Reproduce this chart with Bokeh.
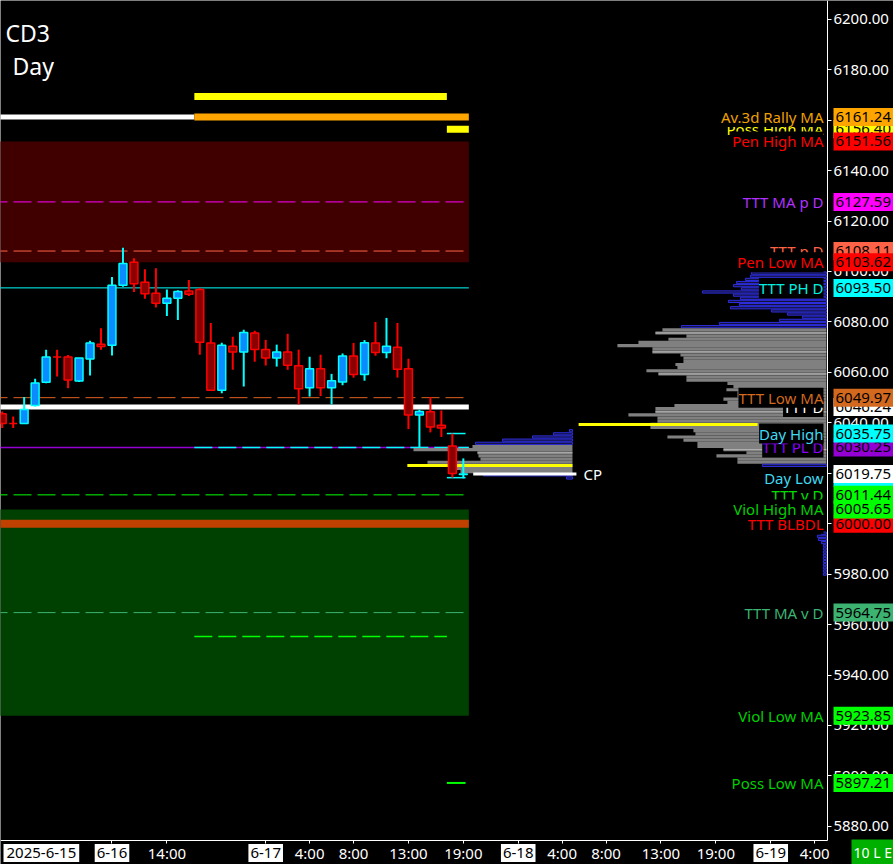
import numpy as np
from bokeh.plotting import figure
from bokeh.models import (Range1d, FixedTicker, PrintfTickFormatter, Label, ColumnDataSource,
                          LinearAxis)
from bokeh.embed import file_html
from bokeh.resources import INLINE

FONT = "Noto Sans"

# ---------------- hourly OHLC bars (bar index 0 .. 42) ----------------
opens = [6043.6, 6039.7, 6039.7, 6046.9, 6056.1, 6066.1, 6066.1, 6056.6, 6065.3, 6071.2,
         6070.8, 6094.5, 6103.7, 6095.7, 6091.4, 6087.4, 6089.4, 6092.3, 6092.9, 6071.6,
         6052.9, 6070.4, 6068.1, 6075.6, 6069.1, 6065.7, 6068.1, 6062.6, 6053.9, 6061.4,
         6053.9, 6056.2, 6066.5, 6059.2, 6071.6, 6067.9, 6070.0, 6061.4, 6043.1, 6044.4,
         6039.0, 6030.8, 6019.5]
highs = [6044.5, 6042.5, 6050.2, 6057.5, 6069.0, 6069.0, 6066.9, 6065.7, 6072.5, 6077.5,
         6097.8, 6109.4, 6105.3, 6100.9, 6101.3, 6092.9, 6092.6, 6096.6, 6093.6, 6079.6,
         6071.7, 6074.1, 6076.9, 6076.5, 6072.9, 6071.0, 6075.3, 6069.0, 6066.2, 6067.0,
         6059.4, 6067.5, 6071.7, 6072.8, 6080.0, 6081.6, 6079.6, 6065.4, 6045.2, 6050.2,
         6044.9, 6035.75, 6025.9]
lows = [6037.9, 6037.9, 6039.7, 6046.5, 6055.7, 6058.4, 6053.7, 6056.2, 6058.8, 6069.0,
        6066.7, 6094.0, 6091.9, 6089.2, 6085.7, 6082.4, 6080.8, 6090.3, 6067.0, 6052.9,
        6051.7, 6061.0, 6054.4, 6064.2, 6062.7, 6062.3, 6061.0, 6047.3, 6050.4, 6050.6,
        6047.3, 6054.9, 6057.9, 6056.7, 6066.6, 6065.6, 6057.9, 6037.5, 6030.4, 6036.2,
        6034.4, 6018.25, 6018.0]
closes = [6039.7, 6039.7, 6045.3, 6055.8, 6066.1, 6066.1, 6057.0, 6065.7, 6071.6, 6070.3,
          6094.5, 6103.2, 6095.1, 6091.2, 6087.4, 6089.4, 6092.1, 6091.0, 6071.9, 6052.9,
          6070.8, 6068.1, 6075.8, 6069.1, 6065.7, 6068.1, 6062.8, 6053.5, 6061.4, 6053.9,
          6056.7, 6066.5, 6059.2, 6071.7, 6067.9, 6070.4, 6061.2, 6043.1, 6044.5, 6038.3,
          6037.9, 6019.9, 6019.75]
doji_bars = [1, 5]          # bars printed as red crosses

# ---------------- time axis (bar index of each labelled hour) ----------------
hour_ticks = [15, 28, 32, 37, 42, 51, 55, 60, 65, 74]
hour_labels = ["14:00", "4:00", "8:00", "13:00", "19:00", "4:00", "8:00", "13:00", "19:00", "4:00"]
day_ticks = [10, 24, 47, 70]
day_labels = ["6-16", "6-17", "6-18", "6-19"]
first_day_label = "2025-6-15"
study_tag = "10 L E"

# ---------------- price axis ----------------
price_ticks = list(range(5880, 6201, 20))

# ---------------- price levels, in drawing order ----------------
level_names = ["Poss High MA", "Av.3d Rally MA", "Pen High MA", "TTT MA p D", "TTT p D",
               "Pen Low MA", "TTT PH D", "TTT D", "TTT Low MA", "TTT PL D", "Day High",
               "Day Low", "", "TTT v D", "TTT BLBDL", "Viol High MA", "TTT MA v D",
               "Viol Low MA", "Poss Low MA"]
level_values = [6156.40, 6161.24, 6151.56, 6127.59, 6108.11,
                6103.62, 6093.50, 6046.24, 6049.97, 6030.25, 6035.75,
                6018.25, 6019.75, 6011.44, 6000.00, 6005.65, 5964.75,
                5923.85, 5897.21]
level_text_colors = ["#ffff00", "#f0a000", "#ff0000", "#b030ff", "#ff6347",
                     "#ff0000", "#00f0e0", "#ffffff", "#d2691e", "#8a00ff", "#40d8f0",
                     "#40d8f0", "#ffffff", "#00e000", "#ff0000", "#00d000", "#3cb371",
                     "#00d000", "#00d000"]
level_tag_colors = ["#ffff00", "#ffa500", "#ff0000", "#ff00ff", "#ff6347",
                    "#ff0000", "#00ffff", "#ffffff", "#d2691e", "#9400d3", "#00ffff",
                    "#00ffff", "#ffffff", "#00ff00", "#ff0000", "#00ff00", "#3cb371",
                    "#00ff00", "#00ff00"]
captions_on_top = ["Day Low"]   # captions painted after all the others

pen_high, pen_low = 6151.56, 6103.62
viol_high, viol_low = 6005.65, 5923.85
av3d_rally, poss_high, prior_rally = 6161.24, 6156.40, 6169.40
ttt_ma_p, ttt_p, ttt_ph = 6127.59, 6108.11, 6093.50
ttt_low_ma, ttt_d, ttt_pl = 6049.97, 6046.24, 6030.25
ttt_v, ttt_blbdl, ttt_ma_v = 6011.44, 6000.00, 5964.75
lower_target, poss_low = 5955.30, 5897.21
day_high, day_low, current_price = 6035.75, 6018.25, 6019.75
poc_overnight, poc_prior = 6023.10, 6039.30

# ---------------- volume profiles (volume per 1.25-pt row, top row first) ----------------
row_size = 1.25
big_top = 6099.375
big_upper_vol = [75, 76, 81, 90, 93, 85, 124, 93, 86, 98, 87, 96, 55, 39, 24, 47, 107, 145]
big_core_vol = [164, 171, 140, 158, 188, 209, 174, 174, 146, 143, 143, 151, 149, 180, 168,
                140, 140, 99, 93, 100, 89, 89, 103, 99, 152, 171, 171, 198, 169, 169,
                176, 176, 133, 131, 159, 143, 129, 129, 103, 80, 110, 89, 89]
big_core_marks = [1, 7, 14, 26, 38]
big_tail_vol = [64]
small_top = 6036.875
small_upper_vol = [3, 19, 40, 70, 97]
small_core_vol = [100, 159, 95, 94, 92, 145, 132, 117, 112]
small_core_marks = [2]
small_tail_vol = [89, 6]
low_top = 5996.25
low_vol = [5, 9, 8, 5, 3, 3, 3, 3, 3, 3, 3, 3, 3, 3]

# ---------------- frame geometry (bar-index / price units) ----------------
X0, X1 = -0.155, 81.18
Y0, Y1 = 5864.87, 6207.45
AXIS_X = 75.16          # price scale sits here
AXIS_Y = 5874.39        # time scale sits here
SESSION_SPLIT = 17.5
LAST_EDGE = 42.5
RECENT = 40.5
BIG_ANCHOR = 75.07
SMALL_ANCHOR = 51.94
VOL_TO_BARS = 1 / 10.98
BODY_W = 0.72
LABEL_ROW = 5869.45     # centre line of the date captions

p = figure(width=893, height=864, x_range=Range1d(X0, X1), y_range=Range1d(Y0, Y1),
           output_backend="svg", toolbar_location=None, x_axis_type=None, y_axis_type=None,
           min_border_left=0, min_border_top=0, min_border_right=0, min_border_bottom=0,
           background_fill_color="black", border_fill_color="black", outline_line_color=None)
p.grid.visible = False

# price axis
ya = LinearAxis(fixed_location=AXIS_X, bounds=(AXIS_Y, Y1))
ya.ticker = FixedTicker(ticks=price_ticks)
ya.formatter = PrintfTickFormatter(format="%.2f")
ya.axis_line_color = "white"
ya.major_tick_line_color = "white"
ya.minor_tick_line_color = None
ya.major_tick_out = 4
ya.major_tick_in = 0
ya.major_label_standoff = 2
ya.major_label_text_color = "white"
ya.major_label_text_font = FONT
ya.major_label_text_font_size = "15px"
p.add_layout(ya, "right")

# time axis
xa = LinearAxis(fixed_location=AXIS_Y, bounds=(X0, AXIS_X))
xa.ticker = FixedTicker(ticks=hour_ticks + day_ticks)
overrides = {t: s for t, s in zip(hour_ticks, hour_labels)}
overrides.update({t: "" for t in day_ticks})
xa.major_label_overrides = overrides
xa.axis_line_color = "white"
xa.major_tick_line_color = "white"
xa.minor_tick_line_color = None
xa.major_tick_out = 3
xa.major_tick_in = 0
xa.major_label_standoff = 0
xa.major_label_text_color = "white"
xa.major_label_text_font = FONT
xa.major_label_text_font_size = "15px"
p.add_layout(xa, "below")

# zones
p.quad(left=X0 - 1, right=LAST_EDGE, top=pen_high, bottom=pen_low, fill_color="#400000", line_color=None)
p.quad(left=X0 - 1, right=LAST_EDGE, top=viol_high, bottom=viol_low, fill_color="#004000", line_color=None)

def hline(y, x0, x1, color, width=1, dash="solid"):
    p.segment(x0=[x0], y0=[y], x1=[x1], y1=[y], line_color=color, line_width=width, line_dash=dash)

DASH = "18 6"
hline(av3d_rally, X0 - 1, SESSION_SPLIT, "white", 5)
hline(av3d_rally, SESSION_SPLIT, LAST_EDGE, "#ffa500", 7)
hline(prior_rally, SESSION_SPLIT, RECENT, "#ffff00", 7)
hline(poss_high, RECENT, LAST_EDGE, "#ffff00", 7)
hline(ttt_ma_p, X0 - 1, LAST_EDGE, "#ff00ff", 1, DASH)
hline(ttt_p, X0 - 1, LAST_EDGE, "#ff6347", 1, DASH)
hline(ttt_ph, X0 - 1, LAST_EDGE, "#00ffff", 1)
hline(ttt_low_ma, X0 - 1, LAST_EDGE, "#e0601e", 1, DASH)
hline(ttt_d, X0 - 1, LAST_EDGE, "white", 5)
hline(ttt_pl, X0 - 1, LAST_EDGE, "#9400d3", 1.5)
hline(ttt_pl, SESSION_SPLIT, LAST_EDGE, "#00ffff", 1.5, DASH)
hline(ttt_v, X0 - 1, LAST_EDGE, "#00ff00", 1, DASH)
hline(ttt_blbdl, X0 - 1, LAST_EDGE, "#c04000", 8)
hline(ttt_ma_v, X0 - 1, LAST_EDGE, "#3cb371", 1, DASH)
hline(lower_target, SESSION_SPLIT, RECENT, "#00ff00", 1.5, DASH)
hline(poss_low, RECENT, 42.2, "#00ff00", 2)
hline(day_high, RECENT, 42.2, "#00ffff", 1.5)
hline(day_low, RECENT, 42.2, "#00ffff", 1.5)

# volume profiles
def profile(top, vols, anchor, kind, first_row=0, marks=()):
    vols = np.asarray(vols, dtype=float)
    ys = top - row_size * (first_row + np.arange(len(vols)))
    left = anchor - vols * VOL_TO_BARS
    src = ColumnDataSource(dict(y=ys, left=left, right=np.full(len(vols), anchor)))
    if kind == "core":
        p.hbar(y="y", left="left", right="right", height=row_size, source=src,
               fill_color="#808080", line_color=None)
        m = list(marks)
        if m:
            p.segment(x0=left[m], y0=ys[m], x1=np.full(len(m), anchor), y1=ys[m],
                      line_color="#b4b4b4", line_width=1)
    else:
        p.hbar(y="y", left="left", right="right", height=row_size * 0.7, source=src,
               fill_color="#12123a", line_color="#2e2ee0", line_width=1)

profile(big_top, big_upper_vol, BIG_ANCHOR, "edge")
profile(big_top, big_core_vol, BIG_ANCHOR, "core", len(big_upper_vol), big_core_marks)
profile(big_top, big_tail_vol, BIG_ANCHOR, "edge", len(big_upper_vol) + len(big_core_vol))
profile(small_top, small_upper_vol, SMALL_ANCHOR, "edge")
profile(small_top, small_core_vol, SMALL_ANCHOR, "core", len(small_upper_vol), small_core_marks)
profile(small_top, small_tail_vol, SMALL_ANCHOR, "edge", len(small_upper_vol) + len(small_core_vol))
profile(low_top, low_vol, BIG_ANCHOR, "edge")

hline(poc_overnight, 36.9, SMALL_ANCHOR, "#ffff00", 3)
hline(poc_prior, 52.5, 68.8, "#ffff00", 3)
hline(current_price, 42.9, 52.3, "white", 3)

# candles
o, h, l, c = map(np.asarray, (opens, highs, lows, closes))
idx = np.arange(len(o))
bull = c >= o
bull[doji_bars] = False
body_fill = np.where(bull, "#0a8cff", "#8b0000")
edge_col = np.where(bull, "#00ffff", "#ff0000")
cs = ColumnDataSource(dict(x=idx, o=o, h=h, l=l, c=c, top=np.maximum(o, c), bot=np.minimum(o, c),
                           fill=body_fill, edge=edge_col))
p.segment(x0="x", y0="l", x1="x", y1="h", line_color="edge", line_width=2, source=cs)
p.vbar(x="x", width=BODY_W, top="top", bottom="bot", fill_color="fill", line_color="edge",
       line_width=1.5, source=cs)

# in-frame captions
p.add_layout(Label(x=0.3, y=6194.4, text="CD3", text_color="white", text_font=FONT,
                   text_font_size="23px", text_baseline="middle"))
p.add_layout(Label(x=0.94, y=6181.5, text="Day", text_color="white", text_font=FONT,
                   text_font_size="23px", text_baseline="middle"))
p.add_layout(Label(x=52.94, y=current_price, text="CP", text_color="white", text_font=FONT,
                   text_font_size="15px", text_baseline="middle"))

# level captions and price tags on the price scale
def caption(name, val, tc):
    p.add_layout(Label(x=823, x_units="screen", y=val, text=name, text_align="right",
                       text_baseline="middle", text_color=tc, text_font=FONT,
                       text_font_size="15px", background_fill_color="black"))

deferred = []
for name, val, tc, tag in zip(level_names, level_values, level_text_colors, level_tag_colors):
    if name in captions_on_top:
        deferred.append((name, val, tc))
    elif name:
        caption(name, val, tc)
    p.add_layout(Label(x=833, x_units="screen", y=val, text=f"{val:.2f}", text_align="left",
                       text_baseline="middle", text_color="black", text_font=FONT,
                       text_font_size="15px", background_fill_color=tag, padding=(2, 4)))
for name, val, tc in deferred:
    caption(name, val, tc)

# date captions on the time scale
p.add_layout(Label(x=3, x_units="screen", y=LABEL_ROW, text=first_day_label,
                   text_align="left", text_baseline="middle", text_color="black", text_font=FONT,
                   text_font_size="15px", background_fill_color="white", padding=(3, 4)))
for t, s in zip(day_ticks, day_labels):
    p.add_layout(Label(x=t, y=LABEL_ROW, text=s, text_align="center",
                       text_baseline="middle", text_color="black", text_font=FONT,
                       text_font_size="15px", background_fill_color="white", padding=(2, 4)))
p.add_layout(Label(x=851, x_units="screen", y=LABEL_ROW, text=study_tag,
                   text_align="left", text_baseline="middle", text_color="white", text_font=FONT,
                   text_font_size="14px", background_fill_color="#00b000", padding=(2, 4)))

open("out.html", "w").write(file_html(p, INLINE))
